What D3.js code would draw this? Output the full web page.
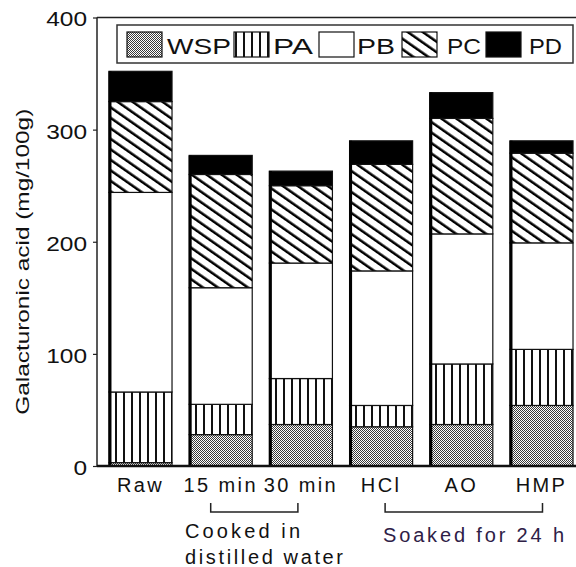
<!DOCTYPE html>
<html>
<head>
<meta charset="utf-8">
<script src="https://cdn.jsdelivr.net/npm/d3@7"></script>
<style>
  body { margin: 0; background: #fff; }
  svg { display: block; }
  text { font-family: "Liberation Sans", Arial, sans-serif; fill: #111; }
</style>
</head>
<body>
<svg id="chart" width="576" height="567"></svg>
<script>
// Pectic fractions (mg galacturonic acid / 100 g) per treatment
const categories = ["Raw", "15 min", "30 min", "HCl", "AO", "HMP"];
const fractions = ["WSP", "PA", "PB", "PC", "PD"];
const WSP = [3, 28, 37, 35, 37, 54];
const PA  = [63, 27, 41, 19, 54, 50];
const PB  = [178, 104, 103, 120, 116, 95];
const PC  = [81, 101, 69, 95, 103, 80];
const PD  = [27, 17, 13, 21, 23, 11];
const yTicks = [0, 100, 200, 300, 400];
const yTitle = "Galacturonic acid (mg/100g)";
const groupLabels = [
  { lines: ["Cooked in", "distilled water"], from: "15 min", to: "30 min" },
  { lines: ["Soaked for 24 h"], from: "HCl", to: "HMP" }
];

const series = { WSP, PA, PB, PC, PD };
const rows = categories.map((c, i) => {
  const r = { cat: c };
  fractions.forEach(f => r[f] = series[f][i]);
  return r;
});

const svg = d3.select("#chart");
const plotL = 97, plotR = 576, plotT = 17.5, plotB = 466;

const x = d3.scaleBand().domain(categories).range([100, 582])
  .paddingInner(0.214).paddingOuter(0.112);
const y = d3.scaleLinear().domain([0, 400]).range([plotB, plotT]);

// fill patterns
const defs = svg.append("defs");
const stip = defs.append("pattern").attr("id", "p-WSP")
  .attr("patternUnits", "userSpaceOnUse").attr("width", 2).attr("height", 2);
stip.append("rect").attr("width", 2).attr("height", 2).attr("fill", "#fff");
stip.append("rect").attr("x", 0).attr("y", 0).attr("width", 1).attr("height", 1).attr("fill", "#3a3a3a");
stip.append("rect").attr("x", 1).attr("y", 1).attr("width", 1).attr("height", 1).attr("fill", "#3a3a3a");

const vert = defs.append("pattern").attr("id", "p-PA")
  .attr("patternUnits", "userSpaceOnUse").attr("width", 8).attr("height", 8);
vert.append("rect").attr("width", 8).attr("height", 8).attr("fill", "#fff");
vert.append("rect").attr("x", 3).attr("y", 0).attr("width", 2).attr("height", 8).attr("fill", "#111");

const diag = defs.append("pattern").attr("id", "p-PC")
  .attr("patternUnits", "userSpaceOnUse").attr("width", 8.6).attr("height", 8.6)
  .attr("patternTransform", "rotate(-55)");
diag.append("rect").attr("width", 8.6).attr("height", 8.6).attr("fill", "#fff");
diag.append("rect").attr("x", 0).attr("y", 0).attr("width", 2.5).attr("height", 8.6).attr("fill", "#000");

const fills = { WSP: "url(#p-WSP)", PA: "url(#p-PA)", PB: "#fff", PC: "url(#p-PC)", PD: "#000" };

// frame
svg.append("line").attr("x1", plotL).attr("x2", plotR).attr("y1", plotT).attr("y2", plotT)
  .attr("stroke", "#222").attr("stroke-width", 1.5);

// y axis
const yAxis = svg.append("g").attr("transform", `translate(${plotL},0)`)
  .call(d3.axisLeft(y).tickValues(yTicks).tickSize(4).tickFormat(d3.format("d")));
yAxis.select(".domain").attr("stroke", "#222").attr("stroke-width", 1.5)
  .attr("d", `M0,${plotT}V${plotB}`);
yAxis.selectAll(".tick line").attr("stroke", "#222").attr("stroke-width", 1.2);
yAxis.selectAll(".tick text")
  .attr("x", -10).attr("dy", "0.72em").attr("y", -6)
  .attr("textLength", d => String(d).length * 13.6)
  .attr("lengthAdjust", "spacingAndGlyphs")
  .style("font-size", "20px").attr("fill", "#222");

// stacked bars
const stacked = d3.stack().keys(fractions)(rows);
const bars = svg.append("g");
stacked.forEach(layer => {
  bars.append("g").selectAll("rect").data(layer).join("rect")
    .attr("x", d => x(d.data.cat))
    .attr("width", x.bandwidth())
    .attr("y", d => y(d[1]))
    .attr("height", d => y(d[0]) - y(d[1]))
    .attr("fill", fills[layer.key])
    .attr("stroke", "#111").attr("stroke-width", 1.2);
});
// heavier left edge of each bar
bars.append("g").selectAll("line").data(rows).join("line")
  .attr("x1", d => x(d.cat) + 1).attr("x2", d => x(d.cat) + 1)
  .attr("y1", d => y(d3.sum(fractions, f => d[f])))
  .attr("y2", plotB)
  .attr("stroke", "#000").attr("stroke-width", 3);

// x axis
const xAxis = svg.append("g").attr("transform", `translate(0,${plotB})`)
  .call(d3.axisBottom(x).tickSize(0).tickPadding(12));
xAxis.select(".domain").attr("stroke", "#111").attr("stroke-width", 2.5)
  .attr("d", `M${plotL},0H${plotR}`);
xAxis.selectAll(".tick text").style("font-size", "20px").style("letter-spacing", "2.4px")
  .attr("fill", "#111");

// y title
svg.append("text")
  .attr("transform", `translate(29,${(plotT + plotB) / 2 + 20}) rotate(-90)`)
  .attr("text-anchor", "middle")
  .attr("textLength", 306).attr("lengthAdjust", "spacingAndGlyphs")
  .style("font-size", "19px")
  .text(yTitle);

// legend
const legendItems = [
  { key: "WSP", sx: 127, tx: 167, tl: 64 },
  { key: "PA", sx: 234, tx: 273, tl: 40 },
  { key: "PB", sx: 319, tx: 357, tl: 38 },
  { key: "PC", sx: 402, tx: 447, tl: 34 },
  { key: "PD", sx: 486, tx: 529, tl: 33 }
];
const legend = svg.append("g");
legend.append("rect").attr("x", 117).attr("y", 25).attr("width", 456).attr("height", 38)
  .attr("fill", "#fff").attr("stroke", "#333").attr("stroke-width", 1.5);
legendItems.forEach(it => {
  legend.append("rect").attr("x", it.sx).attr("y", 32).attr("width", 35).attr("height", 25)
    .attr("fill", fills[it.key]).attr("stroke", "#111").attr("stroke-width", 1.2);
  legend.append("text").attr("x", it.tx).attr("y", 54)
    .attr("textLength", it.tl).attr("lengthAdjust", "spacingAndGlyphs")
    .style("font-size", "22px").text(it.key);
});

// treatment group brackets and captions
const cx = c => x(c) + x.bandwidth() / 2;
const bracketTrim = [[-10, -3], [4, 1]];
const captionLayout = [
  { x: 185, y: [538, 564], w: [115, 158], color: "#111" },
  { x: 383, y: [542], w: [181], color: "#2e2046" }
];
groupLabels.forEach((g, i) => {
  const x1 = cx(g.from) + bracketTrim[i][0], x2 = cx(g.to) + bracketTrim[i][1];
  svg.append("path")
    .attr("d", `M${x1},503V512H${x2}V503`)
    .attr("fill", "none").attr("stroke", "#222").attr("stroke-width", 1.5);
  const L = captionLayout[i];
  g.lines.forEach((ln, j) => {
    svg.append("text").attr("x", L.x).attr("y", L.y[j])
      .attr("textLength", L.w[j]).attr("lengthAdjust", "spacing")
      .style("font-size", "20px").style("fill", L.color)
      .text(ln);
  });
});
</script>
</body>
</html>
